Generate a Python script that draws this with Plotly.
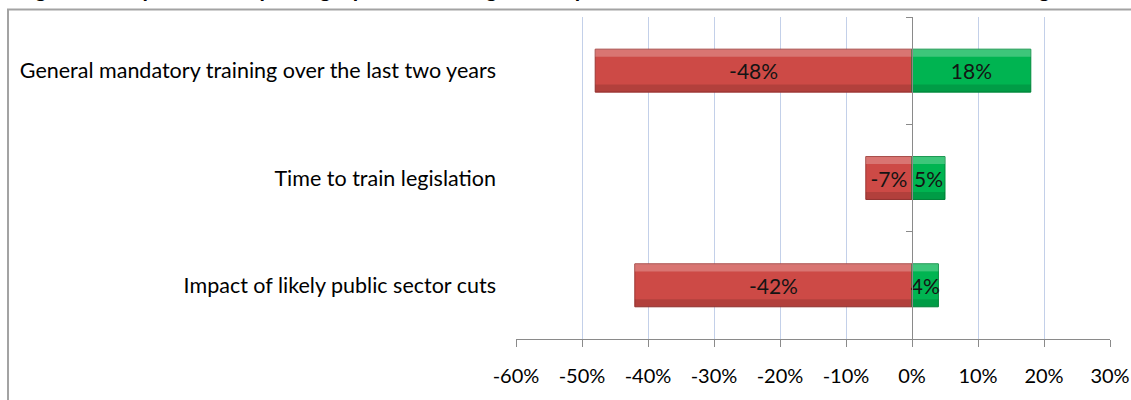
import plotly.graph_objects as go

# Issues (listed bottom-to-top so the first entry sits at the foot of the chart)
categories = [
    "Impact of likely public sector cuts",
    "Time to train legislation",
    "General mandatory training over the last two years",
]
negative_pct = [-42, -7, -48]   # share reporting a negative impact
positive_pct = [4, 5, 18]       # share reporting a positive impact

x_ticks = [-60, -50, -40, -30, -20, -10, 0, 10, 20, 30]
x_tick_labels = [f"{v}%" for v in x_ticks]

title_text = ("Figure 3: Respondents reporting a positive or negative impact on their "
              "business from each of the following issues")

FONT = "Lato, Carlito, Calibri, 'Open Sans', sans-serif"
RED, RED_EDGE = "#CD4A46", "#9C3633"
GREEN, GREEN_EDGE = "#00B451", "#008A3C"

BAR_W = 0.4
BAND_W = 0.07

fig = go.Figure()


def add_bar(values, fill, edge):
    # main bar with its value printed in the middle
    fig.add_trace(go.Bar(
        x=values, y=categories, orientation="h",
        width=BAR_W, offset=-BAR_W / 2,
        marker=dict(color=fill, line=dict(color=edge, width=1)),
        text=[f"{v}%" for v in values],
        textposition="inside", insidetextanchor="middle",
        textangle=0, constraintext="none",
        textfont=dict(family=FONT, size=21, color="#141414"),
        showlegend=False, hoverinfo="x+y",
    ))
    # bevel: light band along the top edge, darker band along the bottom edge
    fig.add_trace(go.Bar(
        x=values, y=categories, orientation="h",
        width=BAND_W, offset=BAR_W / 2 - BAND_W,
        marker=dict(color="rgba(255,255,255,0.24)", line=dict(width=0)),
        showlegend=False, hoverinfo="skip",
    ))
    fig.add_trace(go.Bar(
        x=values, y=categories, orientation="h",
        width=BAND_W, offset=-BAR_W / 2,
        marker=dict(color="rgba(0,0,0,0.13)", line=dict(width=0)),
        showlegend=False, hoverinfo="skip",
    ))


add_bar(negative_pct, RED, RED_EDGE)
add_bar(positive_pct, GREEN, GREEN_EDGE)

# empty trace so the value-axis line at 0% (with category dividers) is drawn
fig.add_trace(go.Scatter(x=[], y=[], yaxis="y2", showlegend=False, hoverinfo="skip"))

x_min, x_max = x_ticks[0], x_ticks[-1]
zero_pos = (0 - x_min) / (x_max - x_min)

fig.update_layout(
    width=1131, height=400,
    margin=dict(l=516, r=21, t=17, b=61, pad=0, autoexpand=False),
    paper_bgcolor="white", plot_bgcolor="white",
    barmode="overlay",
    font=dict(family=FONT, size=20, color="#000000"),
    xaxis=dict(
        range=[x_min, x_max], tickvals=x_ticks, ticktext=x_tick_labels,
        automargin=False,
        showgrid=True, gridcolor="#C3D0E9", gridwidth=1,
        zeroline=False,
        showline=True, linecolor="#8A8A8A", linewidth=1,
        ticks="outside", ticklen=7, tickcolor="#8A8A8A",
        tickfont=dict(family=FONT, size=20, color="#000000"),
        ticklabelstandoff=12,
    ),
    yaxis=dict(
        type="category", categoryorder="array", categoryarray=categories,
        range=[-0.5, len(categories) - 0.5],
        automargin=False,
        showgrid=False, zeroline=False, showline=False, ticks="",
        tickfont=dict(family=FONT, size=21.5, color="#000000"),
        ticklabelstandoff=19,
    ),
    yaxis2=dict(
        overlaying="y", anchor="free", position=zero_pos, side="left",
        range=[-0.5, len(categories) - 0.5],
        automargin=False,
        tickvals=[i - 0.5 for i in range(len(categories) + 1)],
        showticklabels=False, ticks="outside", ticklen=6, tickcolor="#8A8A8A",
        showline=True, linecolor="#8A8A8A", linewidth=1,
        showgrid=False, zeroline=False,
    ),
    shapes=[
        # chart-area frame, running off the right and bottom edges
        dict(type="rect", xref="paper", yref="paper",
             x0=-0.8552, x1=1.2, y0=-0.5, y1=1.0233,
             line=dict(color="#A3A3A3", width=2), fillcolor="rgba(0,0,0,0)",
             layer="below"),
    ],
    annotations=[
        dict(text=f"<b>{title_text}</b>", xref="paper", yref="paper",
             x=-0.8434, y=1.0405, xanchor="left", yanchor="bottom",
             showarrow=False, font=dict(family=FONT, size=22, color="#000000")),
    ],
)

fig.write_html("out.html")
